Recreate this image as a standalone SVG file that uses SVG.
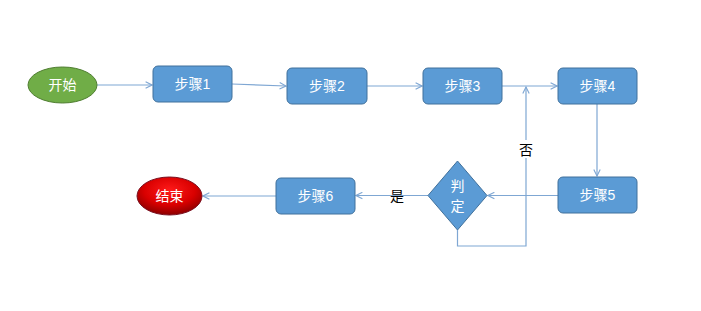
<svg xmlns="http://www.w3.org/2000/svg" width="701" height="311" viewBox="0 0 701 311">
<defs>
<style>
.box{fill:#5B9BD5;stroke:#41719C;stroke-width:1}
.lbl{fill:#fff;font-family:"Liberation Sans","Noto Sans CJK SC",sans-serif;font-size:14px;text-anchor:middle;dominant-baseline:central}
.blk{fill:#000;font-family:"Noto Sans CJK SC",sans-serif;font-size:14px;text-anchor:middle;dominant-baseline:central}
.con{fill:none;stroke:#7FA7D3;stroke-width:1.2}
</style>
<marker id="arr" viewBox="0 0 10 10" refX="9" refY="5" markerWidth="8" markerHeight="8" markerUnits="userSpaceOnUse" orient="auto">
<path d="M1,1 L9,5 L1,9" fill="none" stroke="#7FA7D3" stroke-width="1.4"/>
</marker>
<radialGradient id="red" cx="50%" cy="35%" r="65%">
<stop offset="0" stop-color="#FF1A1A"/>
<stop offset="0.6" stop-color="#D90000"/>
<stop offset="1" stop-color="#8B0000"/>
</radialGradient>
</defs>
<rect width="701" height="311" fill="#fff"/>
<g id="connectors">
<line class="con" x1="97" y1="85" x2="152" y2="85" marker-end="url(#arr)"/>
<line class="con" x1="232" y1="84" x2="286" y2="86" marker-end="url(#arr)"/>
<line class="con" x1="367" y1="86" x2="422" y2="86" marker-end="url(#arr)"/>
<line class="con" x1="502" y1="86" x2="557" y2="86" marker-end="url(#arr)"/>
<line class="con" x1="597" y1="104" x2="597" y2="176" marker-end="url(#arr)"/>
<line class="con" x1="558" y1="195.5" x2="488" y2="195.5" marker-end="url(#arr)"/>
<polyline class="con" points="457.5,230 457.5,246 526,246 526,87" marker-end="url(#arr)"/>
<line class="con" x1="428" y1="195.5" x2="356" y2="195.5" marker-end="url(#arr)"/>
<line class="con" x1="276" y1="196" x2="203" y2="196" marker-end="url(#arr)"/>
<rect x="518" y="140" width="16" height="18" fill="#fff"/>
<text class="blk" x="526" y="149">否</text>
<text class="blk" x="397" y="195">是</text>
</g>
<g id="start">
<ellipse cx="62.5" cy="85" rx="34.5" ry="18" fill="#70AD47" stroke="#507E32"/>
<text class="lbl" x="62.5" y="85">开始</text>
</g>
<g id="step1">
<rect class="box" x="153" y="66" width="79" height="36" rx="5"/>
<text class="lbl" x="192.5" y="84">步骤1</text>
</g>
<g id="step2">
<rect class="box" x="287" y="68" width="80" height="36" rx="5"/>
<text class="lbl" x="327" y="86">步骤2</text>
</g>
<g id="step3">
<rect class="box" x="423" y="68" width="79" height="36" rx="5"/>
<text class="lbl" x="462.5" y="86">步骤3</text>
</g>
<g id="step4">
<rect class="box" x="558" y="68" width="79" height="36" rx="5"/>
<text class="lbl" x="597.5" y="86">步骤4</text>
</g>
<g id="step5">
<rect class="box" x="558" y="177" width="79" height="36" rx="5"/>
<text class="lbl" x="597.5" y="195">步骤5</text>
</g>
<g id="decision">
<polygon class="box" points="457.5,161 487,195.5 457.5,230 428,195.5"/>
<text class="lbl" x="457.5" y="186">判</text>
<text class="lbl" x="457.5" y="206">定</text>
</g>
<g id="step6">
<rect class="box" x="276" y="178" width="79" height="36" rx="5"/>
<text class="lbl" x="315.5" y="196">步骤6</text>
</g>
<g id="end">
<ellipse cx="169.5" cy="196" rx="32.5" ry="19" fill="url(#red)" stroke="#7A1020"/>
<text class="lbl" x="169.5" y="196">结束</text>
</g>
</svg>
